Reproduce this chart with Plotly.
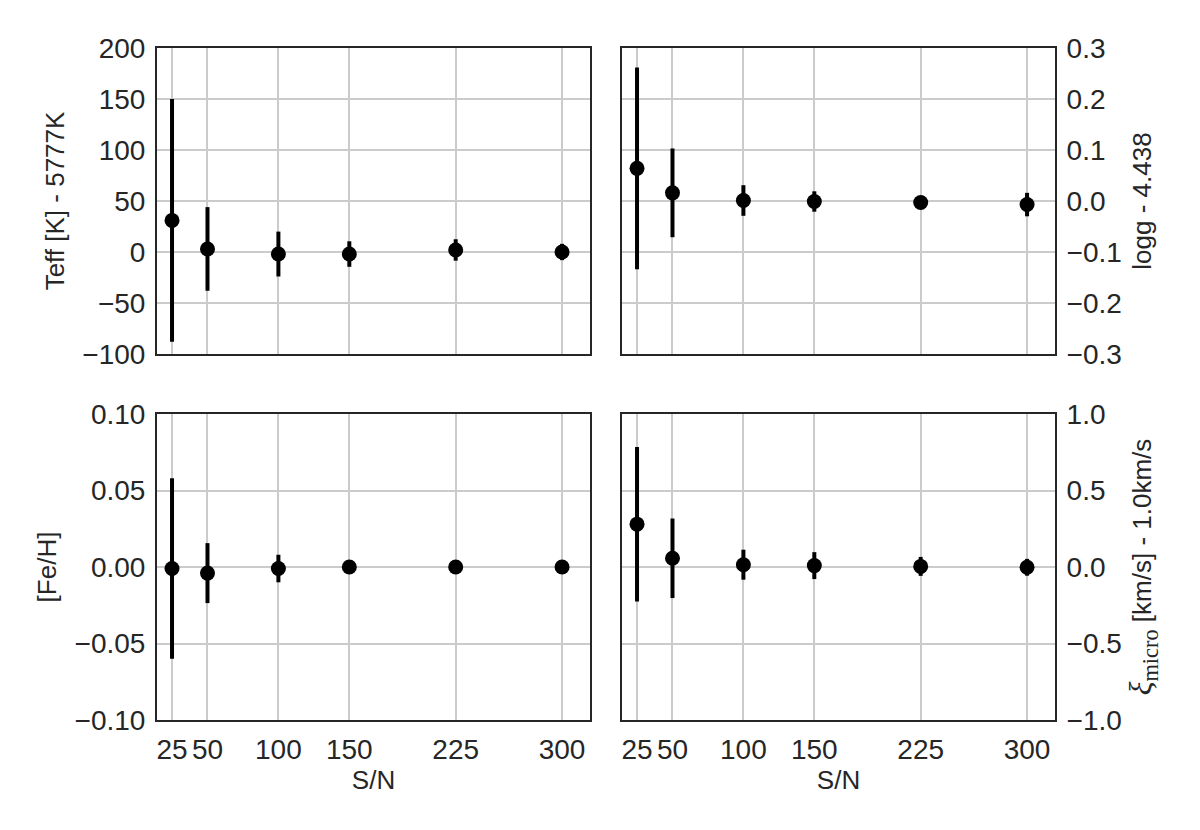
import plotly.graph_objects as go

# S/N values
sn = [25, 50, 100, 150, 225, 300]

# Teff - 5777K
teff = [31, 3, -2, -2, 2, 0]
teff_err = [119, 41, 22, 12.5, 10.5, 8]

# logg - 4.438
logg = [0.064, 0.016, 0.001, -0.001, -0.003, -0.007]
logg_err = [0.198, 0.087, 0.030, 0.020, 0.004, 0.023]

# [Fe/H]
feh = [-0.001, -0.004, -0.001, 0.0, 0.0, 0.0]
feh_err = [0.059, 0.0196, 0.009, 0.002, 0.001, 0.001]

# vmicro - 1.0 km/s
vmic = [0.28, 0.057, 0.015, 0.009, 0.004, -0.002]
vmic_err = [0.505, 0.26, 0.098, 0.088, 0.062, 0.055]

x_ticks = [25, 50, 100, 150, 225, 300]

TXT = "#262626"
GRID = "#cbcbcb"
FONT = "Liberation Sans, Arial, sans-serif"
SERIF = "Liberation Serif, DejaVu Serif, serif"


def errtrace(y, err, xa, ya):
    return go.Scatter(
        x=sn, y=y, mode="markers", xaxis=xa, yaxis=ya,
        marker=dict(size=15, color="black"),
        error_y=dict(type="data", array=err, thickness=4, width=0, color="black"),
        showlegend=False, cliponaxis=False,
    )


fig = go.Figure()
fig.add_trace(errtrace(teff, teff_err, "x", "y"))
fig.add_trace(errtrace(logg, logg_err, "x2", "y2"))
fig.add_trace(errtrace(feh, feh_err, "x3", "y3"))
fig.add_trace(errtrace(vmic, vmic_err, "x4", "y4"))

# common axis style
ax = dict(
    showline=True, mirror=True, linecolor=TXT, linewidth=2,
    showgrid=True, gridcolor=GRID, gridwidth=1.5,
    zeroline=False, ticks="", ticklabelstandoff=4,
    tickfont=dict(size=28, color=TXT, family=FONT),
)

# page body adds an 8px margin, so the figure is 8px smaller each way
W, H = 1192, 822
L, R, T, B = 149, 145, 40, 110
pw = W - L - R
ph = H - T - B
colL = [0, 433 / pw]
colR = [465 / pw, 1]
rowT = [(ph - 306) / ph, 1]
rowB = [0, 306 / ph]

xr = [14.4, 319.7]
xcommon = dict(ax, range=xr, tickmode="array", tickvals=x_ticks, ticklabelstandoff=3)

title_font = dict(size=26, color=TXT, family=FONT)

xi_title = ("<span style=\"font-family:%s;font-size:32px\"><i>ξ</i><sub>micro</sub></span>"
            " [km/s] - 1.0km/s" % SERIF)

fig.update_layout(
    width=W, height=H,
    margin=dict(l=L, r=R, t=T, b=B),
    paper_bgcolor="white", plot_bgcolor="white",
    font=dict(family=FONT, color=TXT),
    xaxis=dict(xcommon, domain=colL, anchor="y", showticklabels=False),
    xaxis2=dict(xcommon, domain=colR, anchor="y2", showticklabels=False),
    xaxis3=dict(xcommon, domain=colL, anchor="y3",
                title=dict(text="S/N", font=title_font, standoff=4)),
    xaxis4=dict(xcommon, domain=colR, anchor="y4",
                title=dict(text="S/N", font=title_font, standoff=4)),
    yaxis=dict(ax, domain=rowT, anchor="x", range=[-100, 200],
               tickvals=[-100, -50, 0, 50, 100, 150, 200],
               title=dict(text="Teff [K] - 5777K", font=title_font, standoff=10)),
    yaxis2=dict(ax, domain=rowT, anchor="x2", side="right", range=[-0.3, 0.3],
                tickvals=[-0.3, -0.2, -0.1, 0.0, 0.1, 0.2, 0.3], tickformat=".1f",
                title=dict(text="logg - 4.438", font=title_font, standoff=12)),
    yaxis3=dict(ax, domain=rowB, anchor="x3", range=[-0.1, 0.1],
                tickvals=[-0.1, -0.05, 0.0, 0.05, 0.1], tickformat=".2f",
                title=dict(text="[Fe/H]", font=title_font, standoff=10)),
    yaxis4=dict(ax, domain=rowB, anchor="x4", side="right", range=[-1.0, 1.0],
                tickvals=[-1.0, -0.5, 0.0, 0.5, 1.0], tickformat=".1f",
                title=dict(text=xi_title, font=title_font, standoff=12)),
)

fig.write_html("out.html")
